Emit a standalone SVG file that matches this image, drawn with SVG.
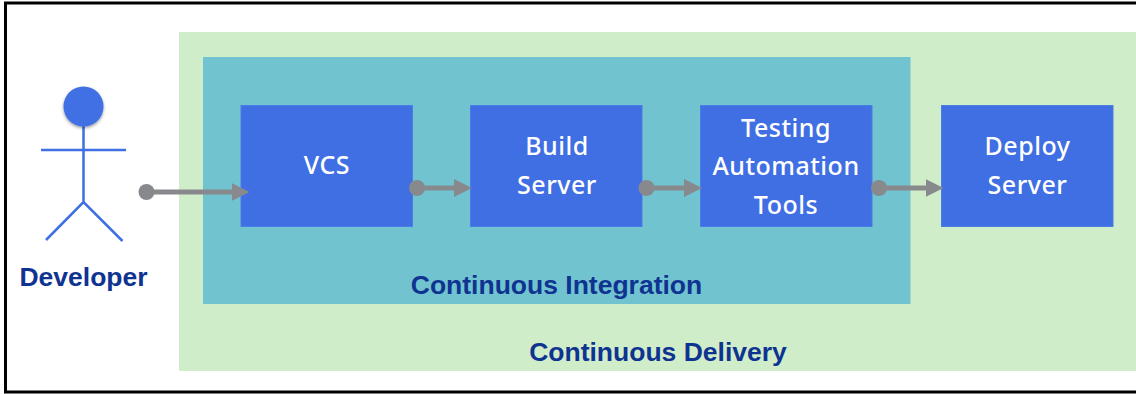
<svg xmlns="http://www.w3.org/2000/svg" width="1136" height="394" viewBox="0 0 1136 394">
  <style>
    .box { fill: #3f6fe3; stroke: #4b7de6; stroke-width: 1; }
    .boxtext { font-family: "Noto Sans", "Open Sans", sans-serif; font-weight: 500; font-size: 25px; fill: #ffffff; text-anchor: middle; letter-spacing: 0.5px; }
    .label { font-family: "Liberation Sans", Arial, sans-serif; font-weight: 700; font-size: 26.500px; fill: #0f3390; text-anchor: middle; }
    .stick { stroke: #3f6fe3; stroke-width: 2.500; fill: none; }
    .conn { stroke: #88898c; stroke-width: 5; fill: none; marker-end: url(#head); }
    .dot { fill: #88898c; }
  </style>
  <defs>
    <marker id="head" markerUnits="userSpaceOnUse" markerWidth="18" markerHeight="18" refX="4" refY="9" orient="auto">
      <path d="M0 0L18 9L0 18Z" fill="#88898c"/>
    </marker>
    <filter id="soft" x="-30%" y="-30%" width="160%" height="170%">
      <feDropShadow dx="0" dy="1.500" stdDeviation="1.500" flood-color="#000000" flood-opacity="0.4"/>
    </filter>
  </defs>
  <rect width="1136" height="394" fill="#ffffff"/>
  <path d="M1136 3H5.500V392H1136" fill="none" stroke="#000000" stroke-width="3"/>
  <g id="continuous-delivery">
    <rect x="179" y="32" width="957" height="339" fill="#d0edca"/>
    <text class="label" x="658" y="361">Continuous Delivery</text>
  </g>
  <g id="continuous-integration">
    <rect x="203" y="57" width="707.500" height="247" fill="#71c3d0"/>
    <text class="label" x="556.500" y="294">Continuous Integration</text>
  </g>
  <g id="developer">
    <path class="stick" d="M83.500 126V202M41 150H126M46 240L83.500 202L122.500 241"/>
    <circle cx="83.500" cy="106.500" r="20" fill="#3f6fe3" filter="url(#soft)"/>
    <text class="label" x="83.500" y="286">Developer</text>
  </g>
  <g id="vcs">
    <rect class="box" x="241" y="105.500" width="171.500" height="121"/>
    <text class="boxtext" x="327" y="174">VCS</text>
  </g>
  <g id="build-server">
    <rect class="box" x="470.500" y="105.500" width="171.500" height="121"/>
    <text class="boxtext" x="557" y="155">Build</text>
    <text class="boxtext" x="557" y="194">Server</text>
  </g>
  <g id="testing-automation-tools">
    <rect class="box" x="700.500" y="105.500" width="171.500" height="121"/>
    <text class="boxtext" x="786" y="137">Testing</text>
    <text class="boxtext" x="786" y="175">Automation</text>
    <text class="boxtext" x="786" y="214">Tools</text>
  </g>
  <g id="deploy-server">
    <rect class="box" x="941.500" y="105.500" width="171.500" height="121"/>
    <text class="boxtext" x="1027.500" y="155">Deploy</text>
    <text class="boxtext" x="1027.500" y="194">Server</text>
  </g>
  <g id="connectors">
    <circle class="dot" cx="146.500" cy="192" r="8"/>
    <path class="conn" d="M146.500 192H235.500"/>
    <circle class="dot" cx="417" cy="188" r="8"/>
    <path class="conn" d="M417 188H458"/>
    <circle class="dot" cx="646.500" cy="188" r="8"/>
    <path class="conn" d="M646.500 188H688"/>
    <circle class="dot" cx="879" cy="188" r="8"/>
    <path class="conn" d="M879 188H929.500"/>
  </g>
</svg>
